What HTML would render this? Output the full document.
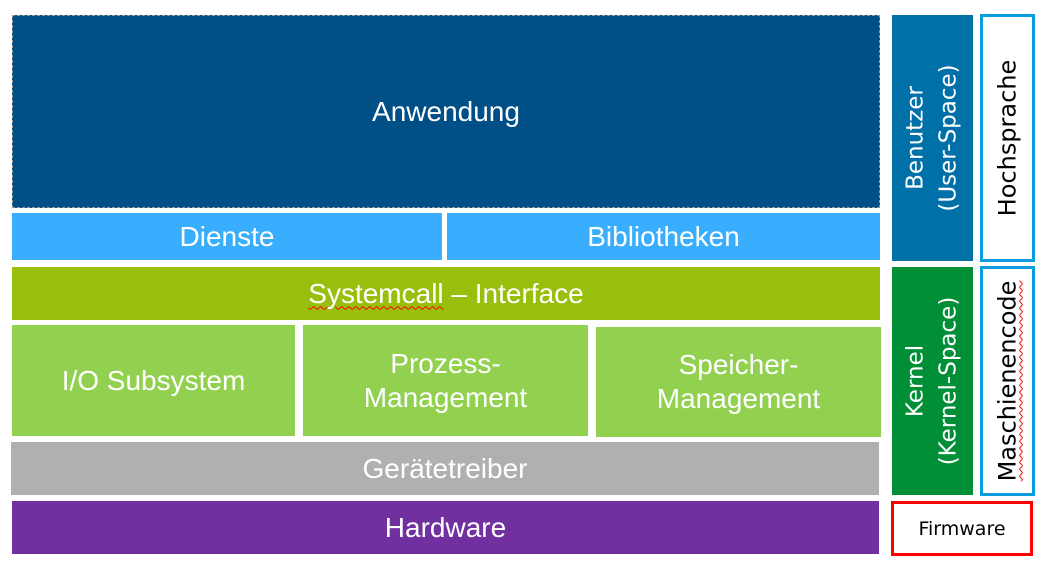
<!DOCTYPE html>
<html><head><meta charset="utf-8"><style>
body{margin:0;width:1053px;height:571px;background:#fff;position:relative;overflow:hidden;font-family:"Liberation Sans",Arial,sans-serif}
.b{position:absolute;display:flex;align-items:center;justify-content:center;text-align:center;color:#fff;font-size:28px;line-height:34px}
.v{position:absolute;display:flex;align-items:center;justify-content:center;box-sizing:border-box}
.v span{transform:rotate(-90deg);white-space:nowrap;text-align:center;font-family:"DejaVu Sans","Liberation Sans",sans-serif}
.sq{text-decoration:underline wavy red 1px;text-underline-offset:3px}
</style></head><body>
<div class="b" style="left:12px;top:15px;width:868px;height:193px;background:#004f86;border:1px dashed #999;box-sizing:border-box">Anwendung</div>
<div class="b" style="left:12px;top:213px;width:430px;height:47px;background:#39aefe">Dienste</div>
<div class="b" style="left:447px;top:213px;width:433px;height:47px;background:#39aefe">Bibliotheken</div>
<div class="b" style="left:12px;top:267px;width:868px;height:53px;background:#99bf0d"><span><span class="sq">Systemcall</span> – Interface</span></div>
<div class="b" style="left:12px;top:325px;width:283px;height:111px;background:#92d050">I/O Subsystem</div>
<div class="b" style="left:303px;top:325px;width:285px;height:111px;background:#92d050">Prozess-<br>Management</div>
<div class="b" style="left:596px;top:327px;width:285px;height:110px;background:#92d050">Speicher-<br>Management</div>
<div class="b" style="left:11px;top:442px;width:868px;height:53px;background:#b0b0b0">Gerätetreiber</div>
<div class="b" style="left:12px;top:501px;width:867px;height:53px;background:#7030a0">Hardware</div>
<div class="v" style="left:892px;top:15px;width:81px;height:246px;background:#0070a8;color:#fff;font-size:23px;line-height:33px"><span>Benutzer<br>(User-Space)</span></div>
<div class="v" style="left:892px;top:267px;width:81px;height:228px;background:#008e36;color:#fff;font-size:23px;line-height:33px"><span>Kernel<br>(Kernel-Space)</span></div>
<div class="v" style="left:980px;top:14px;width:55px;height:248px;border:3px solid #0a9be0;color:#000;font-size:24px"><span>Hochsprache</span></div>
<div class="v" style="left:980px;top:266px;width:55px;height:230px;border:3px solid #0a9be0;color:#000;font-size:24px"><span class="sq">Maschienencode</span></div>
<div class="v" style="left:891px;top:501px;width:142px;height:55px;border:3px solid #f00;color:#000;font-size:19px"><span style="transform:none">Firmware</span></div>
</body></html>
